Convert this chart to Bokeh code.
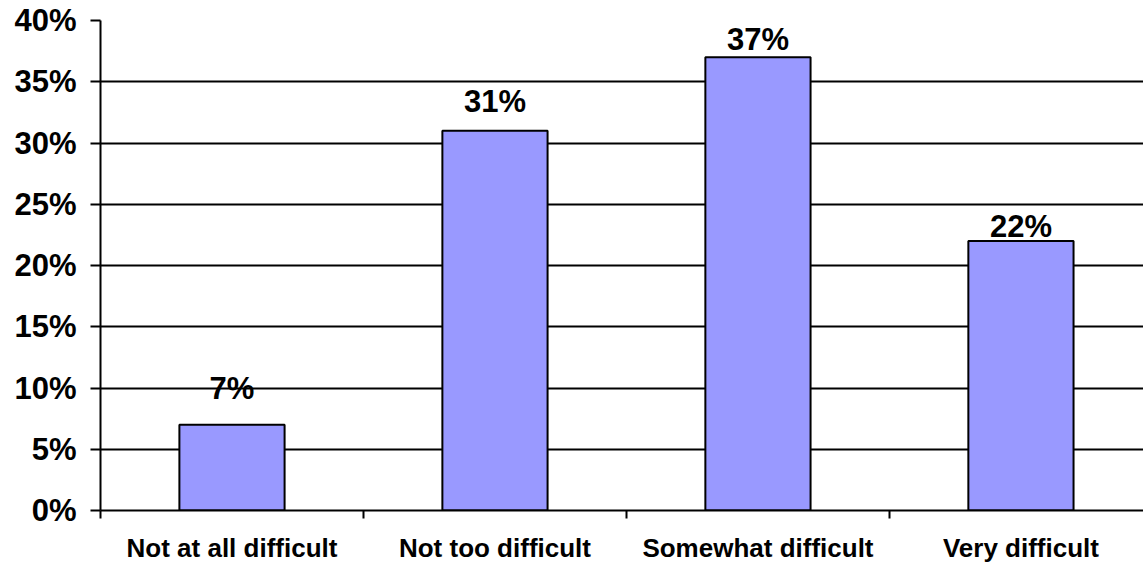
from bokeh.plotting import figure
from bokeh.models import (ColumnDataSource, Range1d, FixedTicker, PrintfTickFormatter,
                          Grid, Text)
from bokeh.core.properties import value
from bokeh.embed import file_html
from bokeh.resources import INLINE

# Survey responses: how difficult it was
categories = ["Not at all difficult", "Not too difficult", "Somewhat difficult", "Very difficult"]
percents = [7, 31, 37, 22]
y_ticks = [0, 5, 10, 15, 20, 25, 30, 35, 40]

FONT = "Liberation Sans"

# how far (px) each value label's centre sits above its bar
label_lift = [36, 29, 18, 15]

x_pos = [i + 0.5 for i in range(len(categories))]
source = ColumnDataSource(data=dict(
    x=x_pos,
    top=percents,
    label=[f"{v}%" for v in percents],
    offset=[-d for d in label_lift],
))

p = figure(width=1143, height=565, output_backend="svg", toolbar_location=None,
           x_range=Range1d(0, 3.966), y_range=Range1d(0, 40),
           min_border_left=100, min_border_right=0, min_border_top=20,
           min_border_bottom=55)
p.outline_line_color = None
p.background_fill_color = "white"
p.border_fill_color = "white"

# bars
p.vbar(x="x", top="top", width=0.4, bottom=0, source=source,
       fill_color="#9999FF", line_color="black", line_width=2)

# value labels above bars
labels = Text(x="x", y="top", text="label", y_offset="offset",
              text_align="center", text_baseline="middle",
              text_font=value(FONT), text_font_style="bold", text_font_size="31px",
              text_color="black")
p.add_glyph(source, labels)

# y axis
p.yaxis.ticker = FixedTicker(ticks=y_ticks)
p.yaxis.formatter = PrintfTickFormatter(format="%d%%")
p.yaxis.axis_line_color = "black"
p.yaxis.axis_line_width = 2
p.yaxis.major_tick_line_color = "black"
p.yaxis.major_tick_line_width = 2
p.yaxis.major_tick_out = 10
p.yaxis.major_tick_in = 0
p.yaxis.minor_tick_line_color = None
p.yaxis.major_label_standoff = 14
p.yaxis.major_label_text_font = FONT
p.yaxis.major_label_text_font_style = "bold"
p.yaxis.major_label_text_font_size = "31px"
p.yaxis.major_label_text_color = "black"

# x axis: labels at category centres, ticks at category boundaries
p.xaxis.ticker = FixedTicker(ticks=x_pos, minor_ticks=[0, 1, 2, 3, 4])
p.xaxis.major_label_overrides = {x: c for x, c in zip(x_pos, categories)}
p.xaxis.axis_line_color = "black"
p.xaxis.axis_line_width = 2
p.xaxis.major_tick_line_color = None
p.xaxis.major_tick_out = 0
p.xaxis.major_tick_in = 0
p.xaxis.minor_tick_line_color = "black"
p.xaxis.minor_tick_line_width = 2
p.xaxis.minor_tick_out = 8
p.xaxis.minor_tick_in = 0
p.xaxis.major_label_standoff = 14
p.xaxis.major_label_text_font = FONT
p.xaxis.major_label_text_font_style = "bold"
p.xaxis.major_label_text_font_size = "26px"
p.xaxis.major_label_text_color = "black"

# horizontal gridlines, with a grey rule along the top
p.xgrid.grid_line_color = None
p.ygrid.ticker = FixedTicker(ticks=y_ticks[1:-1])
p.ygrid.grid_line_color = "black"
p.ygrid.grid_line_width = 2
top_rule = Grid(dimension=1, ticker=FixedTicker(ticks=[y_ticks[-1]]),
                grid_line_color="#8c8c8c", grid_line_width=3)
p.add_layout(top_rule)

open("out.html", "w").write(file_html(p, INLINE))
